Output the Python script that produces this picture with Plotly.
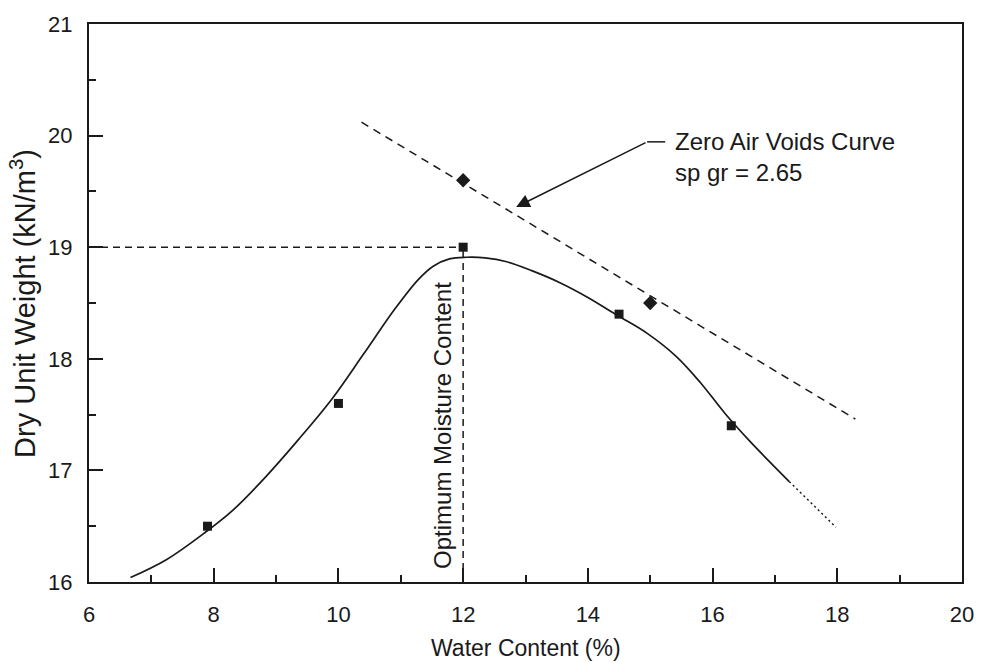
import plotly.graph_objects as go

# Data
curve_x = [6.665, 7.24, 7.876, 8.30, 8.83, 9.365, 9.896, 10.4, 10.91, 11.28, 11.52, 11.78, 12.05, 12.35,
           12.7, 13.1, 13.56, 14.0, 14.47, 14.946, 15.42, 15.8, 16.2, 16.6, 17.23]
curve_y = [16.04, 16.20, 16.45, 16.64, 16.94, 17.28, 17.64, 18.04, 18.45, 18.71, 18.83, 18.895, 18.91, 18.905,
           18.87, 18.79, 18.68, 18.55, 18.39, 18.23, 18.02, 17.79, 17.51, 17.26, 16.90]
extrap_x = [17.23, 17.98]
extrap_y = [16.90, 16.49]
test_x = [7.9, 10.0, 12.0, 14.5, 16.3]
test_y = [16.5, 17.6, 19.0, 18.4, 17.4]
zav_x = [10.37, 18.29]
zav_y = [20.12, 17.46]
zav_pts_x = [12.0, 15.0]
zav_pts_y = [19.6, 18.5]
opt_w = 12.0
max_gd = 19.0

FONT = "Liberation Sans, Arial, sans-serif"
INK = "#1a1a1a"

fig = go.Figure()

fig.add_trace(go.Scatter(x=curve_x, y=curve_y, mode="lines",
                         line=dict(color=INK, width=1.7, shape="spline", smoothing=1.0),
                         hoverinfo="skip", showlegend=False))
fig.add_trace(go.Scatter(x=extrap_x, y=extrap_y, mode="lines",
                         line=dict(color=INK, width=1.5, dash="2px,3px"),
                         showlegend=False))
fig.add_trace(go.Scatter(x=zav_x, y=zav_y, mode="lines",
                         line=dict(color=INK, width=1.5, dash="8px,6px"),
                         showlegend=False))
fig.add_trace(go.Scatter(x=[6, opt_w], y=[max_gd, max_gd], mode="lines",
                         line=dict(color=INK, width=1.5, dash="7px,5px"),
                         showlegend=False))
fig.add_trace(go.Scatter(x=[opt_w, opt_w], y=[16, max_gd], mode="lines",
                         line=dict(color=INK, width=1.5, dash="7px,5px"),
                         showlegend=False))
fig.add_trace(go.Scatter(x=zav_pts_x, y=zav_pts_y, mode="markers",
                         marker=dict(symbol="diamond", size=11, color=INK),
                         showlegend=False))
fig.add_trace(go.Scatter(x=test_x, y=test_y, mode="markers",
                         marker=dict(symbol="square", size=9, color=INK),
                         showlegend=False))

# leader line horizontal part
fig.add_shape(type="line", x0=14.95, y0=19.944, x1=15.24, y1=19.944,
              line=dict(color=INK, width=1.5))
fig.add_annotation(x=12.85, y=19.36, ax=14.95, ay=19.944, axref="x", ayref="y",
                   text="", showarrow=True, arrowhead=2, arrowsize=1.8, arrowwidth=1.5,
                   arrowcolor=INK)
fig.add_annotation(x=15.37, y=19.944, xanchor="left", yanchor="middle", showarrow=False,
                   text="Zero Air Voids Curve", font=dict(family=FONT, size=24, color=INK))
fig.add_annotation(x=15.37, y=19.665, xanchor="left", yanchor="middle", showarrow=False,
                   text="sp gr = 2.65", font=dict(family=FONT, size=24, color=INK))
fig.add_annotation(x=11.68, y=17.40, textangle=-90, showarrow=False,
                   text="Optimum Moisture Content", font=dict(family=FONT, size=24, color=INK))

# axis titles
fig.add_annotation(xref="paper", yref="paper", x=0.5, y=-0.119, xanchor="center", yanchor="middle",
                   showarrow=False, text="Water Content (%)",
                   font=dict(family=FONT, size=23, color=INK))
fig.add_annotation(xref="paper", yref="paper", x=-0.0763, y=0.499, xanchor="center", yanchor="middle",
                   textangle=-90, showarrow=False, text="Dry Unit Weight (kN/m<sup>3</sup>)",
                   font=dict(family=FONT, size=29, color=INK))

fig.update_layout(
    width=986, height=663,
    margin=dict(l=89, r=19, t=20, b=81),
    paper_bgcolor="white", plot_bgcolor="white",
    font=dict(family=FONT, size=22, color=INK),
    xaxis=dict(range=[6, 20], dtick=2, tick0=6, ticks="inside", ticklen=14, tickwidth=1.5,
               tickcolor=INK, showline=True, linewidth=2, linecolor=INK, mirror=True,
               showgrid=False, zeroline=False, ticklabelstandoff=12,
               minor=dict(dtick=1, ticks="inside", ticklen=7, tickwidth=1.5, tickcolor=INK, showgrid=False)),
    yaxis=dict(range=[16, 21], dtick=1, ticks="inside", ticklen=14, tickwidth=1.5,
               tickcolor=INK, showline=True, linewidth=2, linecolor=INK, mirror=True,
               showgrid=False, zeroline=False, ticklabelstandoff=10,
               minor=dict(dtick=0.5, ticks="inside", ticklen=7, tickwidth=1.5, tickcolor=INK, showgrid=False)),
)

fig.write_html("out.html")
